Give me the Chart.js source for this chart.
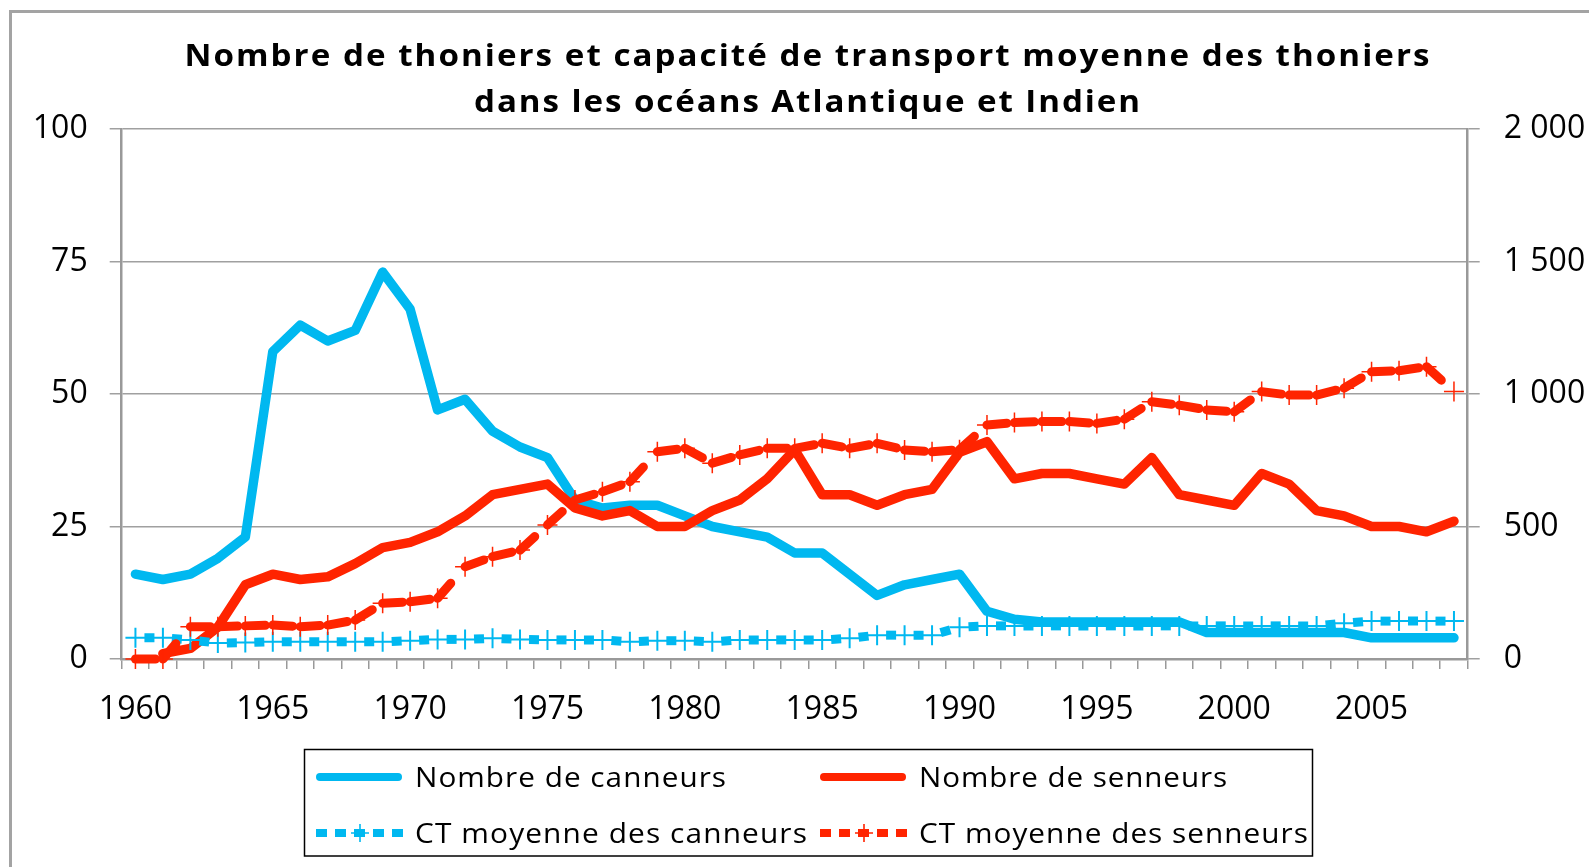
<!DOCTYPE html>
<html>
<head>
<meta charset="utf-8">
<script src="https://cdn.jsdelivr.net/npm/chart.js@4.4.1/dist/chart.umd.min.js"></script>
<style>
html,body{margin:0;padding:0;background:#ffffff;}
#wrap{width:1589px;height:867px;position:relative;overflow:hidden;}
canvas{display:block;}
</style>
</head>
<body>
<div id="wrap"><canvas id="c" width="1589" height="867"></canvas></div>
<script>
// ---------- data ----------
const years = ['1960','1961','1962','1963','1964','1965','1966','1967','1968','1969',
               '1970','1971','1972','1973','1974','1975','1976','1977','1978','1979',
               '1980','1981','1982','1983','1984','1985','1986','1987','1988','1989',
               '1990','1991','1992','1993','1994','1995','1996','1997','1998','1999',
               '2000','2001','2002','2003','2004','2005','2006','2007','2008'];
const xTickLabels = ['1960','1965','1970','1975','1980','1985','1990','1995','2000','2005'];
const rightTickLabels = ['0','500','1 000','1 500','2 000'];

// Nombre de canneurs (left axis)
const canneurs = [16,15,16,19,23,58,63,60,62,73,
                  66,47,49,43,40,38,30,28.5,29,29,
                  27,25,24,23,20,20,16,12,14,15,
                  16,9,7.5,7,7,7,7,7,7,5,
                  5,5,5,5,5,4,4,4,4];
// Nombre de senneurs (left axis)
const senneurs = [null,1,2,6,14,16,15,15.5,18,21,
                  22,24,27,31,32,33,28.5,27,28,25,
                  25,28,30,34,39.5,31,31,29,31,32,
                  39,41,34,35,35,34,33,38,31,30,
                  29,35,33,28,27,25,25,24,26];
// CT moyenne des canneurs (right axis)
const ctCanneurs = [80,80,72,60,62,65,65,65,65,65,
                    69,74,74,78,74,72,72,72,65,69,
                    69,65,72,72,72,72,78,90,90,90,
                    120,125,125,125,125,125,125,125,125,125,
                    125,125,125,125,135,143,143,143,143];
// CT moyenne des senneurs (right axis)
const ctSenneurs = [0,0,122,122,125,128,122,128,147,210,
                    216,229,348,386,411,506,600,631,669,782,
                    795,739,770,795,795,814,795,814,789,782,
                    790,883,892,896,896,889,905,971,958,940,
                    933,1009,996,996,1022,1084,1088,1103,1009];

const titleLines = ['Nombre de thoniers et capacité de transport moyenne des thoniers',
                    'dans les océans Atlantique et Indien'];

// ---------- styles ----------
const BLUE = '#00B8F0';
const RED = '#FF2400';
const GRID = '#A0A0A0';
const AXIS = '#999999';
const FONT = '"Open Sans", "Noto Sans", sans-serif';

// restart the dash pattern at every data point (each segment stroked separately)
const perSegment = { borderDashOffset: c => (c.p0DataIndex % 2) * 0.001 };

function fitText(ctx, text, x, y, targetW, centered, frac) {
  ctx.save();
  if ('letterSpacing' in ctx) ctx.letterSpacing = '0px';
  let w = ctx.measureText(text).width;
  if ('letterSpacing' in ctx && targetW > w) {
    const ls = frac * (targetW - w) / text.length;
    ctx.letterSpacing = ls.toFixed(2) + 'px';
    w = ctx.measureText(text).width;
  }
  const sx = targetW / w;
  const x0 = centered ? x - targetW / 2 : x;
  ctx.textAlign = 'left';
  ctx.translate(x0, y);
  ctx.scale(sx, 1);
  ctx.fillText(text, 0, 0);
  ctx.restore();
}

const legendSlots = [
  { x: 316, y: 777, tx: 415, tw: 312 },
  { x: 820, y: 777, tx: 919, tw: 309 },
  { x: 316, y: 833, tx: 415, tw: 393 },
  { x: 820, y: 833, tx: 919, tw: 390 }
];
const legendOrder = ['Nombre de canneurs', 'Nombre de senneurs',
                     'CT moyenne des canneurs', 'CT moyenne des senneurs'];

const deco = {
  id: 'deco',
  afterDraw(chart) {
    const ctx = chart.ctx;
    ctx.save();
    // outer chart border (left & top visible)
    ctx.strokeStyle = '#A3A3A3';
    ctx.lineWidth = 3;
    ctx.beginPath();
    ctx.moveTo(10.5, 870);
    ctx.lineTo(10.5, 11.5);
    ctx.lineTo(1595, 11.5);
    ctx.stroke();

    // title
    ctx.fillStyle = '#000';
    ctx.textBaseline = 'alphabetic';
    ctx.font = 'bold 30px ' + FONT;
    fitText(ctx, titleLines[0], 808, 66, 1247, true, 0.5);
    fitText(ctx, titleLines[1], 808, 112, 668, true, 0.5);

    // legend box
    ctx.strokeStyle = '#000';
    ctx.lineWidth = 1.5;
    ctx.strokeRect(304.5, 749.5, 1008, 106.5);

    legendOrder.forEach((lab, i) => {
      const ds = chart.data.datasets.find(d => d.label === lab);
      const s = legendSlots[i];
      ctx.save();
      ctx.strokeStyle = ds.borderColor;
      ctx.lineWidth = 8;
      if (ds.borderDash && ds.borderDash.length) {
        ctx.lineCap = 'butt';
        ctx.setLineDash([11, 8]);
        ctx.lineDashOffset = 0;
        ctx.beginPath();
        ctx.moveTo(s.x, s.y);
        ctx.lineTo(s.x + 88, s.y);
        ctx.stroke();
        ctx.setLineDash([]);
        ctx.lineWidth = 1.6;
        const cx = s.x + 44;
        ctx.beginPath();
        ctx.moveTo(cx - 9, s.y); ctx.lineTo(cx + 9, s.y);
        ctx.moveTo(cx, s.y - 9); ctx.lineTo(cx, s.y + 9);
        ctx.stroke();
      } else {
        ctx.lineCap = 'round';
        ctx.beginPath();
        ctx.moveTo(s.x + 4, s.y);
        ctx.lineTo(s.x + 82, s.y);
        ctx.stroke();
      }
      ctx.restore();
      ctx.fillStyle = '#000';
      ctx.font = '28px ' + FONT;
      ctx.textBaseline = 'alphabetic';
      fitText(ctx, lab, s.tx, s.y + 10, s.tw, false, 0.5);
    });
    ctx.restore();
  }
};

const ctx = document.getElementById('c').getContext('2d');
new Chart(ctx, {
  type: 'line',
  data: {
    labels: years,
    datasets: [
      {
        label: 'CT moyenne des senneurs', data: ctSenneurs, yAxisID: 'y2', order: 0,
        borderColor: RED, backgroundColor: RED, borderWidth: 9,
        borderDash: [20, 25], borderCapStyle: 'round', borderJoinStyle: 'round',
        pointStyle: 'cross', pointRadius: 10, pointBorderWidth: 1.5,
        pointBorderColor: RED, pointBackgroundColor: RED,
        segment: perSegment, clip: false, tension: 0
      },
      {
        label: 'CT moyenne des canneurs', data: ctCanneurs, yAxisID: 'y2', order: 1,
        borderColor: BLUE, backgroundColor: BLUE, borderWidth: 9,
        borderDash: [0, 9, 10, 40], borderCapStyle: 'butt',
        pointStyle: 'cross', pointRadius: 10, pointBorderWidth: 2,
        pointBorderColor: BLUE, pointBackgroundColor: BLUE,
        segment: perSegment, clip: false, tension: 0
      },
      {
        label: 'Nombre de senneurs', data: senneurs, yAxisID: 'y', order: 2,
        borderColor: RED, backgroundColor: RED, borderWidth: 9.5,
        borderCapStyle: 'round', borderJoinStyle: 'round',
        pointRadius: 0, tension: 0, spanGaps: false
      },
      {
        label: 'Nombre de canneurs', data: canneurs, yAxisID: 'y', order: 3,
        borderColor: BLUE, backgroundColor: BLUE, borderWidth: 9.5,
        borderCapStyle: 'round', borderJoinStyle: 'round',
        pointRadius: 0, tension: 0
      }
    ]
  },
  options: {
    responsive: false,
    animation: false,
    devicePixelRatio: 1,
    events: [],
    layout: { padding: { top: 129, left: 0, right: 0, bottom: 0 } },
    plugins: {
      legend: { display: false },
      title: { display: false },
      tooltip: { enabled: false }
    },
    scales: {
      x: {
        type: 'category',
        offset: true,
        grid: { display: true, offset: true, drawOnChartArea: false, drawTicks: true,
                tickLength: 10, color: AXIS, lineWidth: 1.5 },
        border: { display: true, color: AXIS, width: 2.5 },
        ticks: {
          autoSkip: false, maxRotation: 0, minRotation: 0, padding: 22,
          color: '#000', font: { family: FONT, size: 32 },
          callback: function(v, i) { return xTickLabels.includes(years[i]) ? years[i] : ''; }
        },
        afterFit: s => { s.height = 208; }
      },
      y: {
        position: 'left', min: 0, max: 100,
        grid: { color: GRID, lineWidth: 1.5, tickLength: 12, drawTicks: true },
        border: { display: true, color: AXIS, width: 2.5 },
        ticks: { stepSize: 25, padding: 22, color: '#000', font: { family: FONT, size: 32 } },
        afterFit: s => { s.width = 121.7; }
      },
      y2: {
        position: 'right', min: 0, max: 2000,
        grid: { drawOnChartArea: false, color: GRID, lineWidth: 1.5, tickLength: 12, drawTicks: true },
        border: { display: true, color: AXIS, width: 2.5 },
        ticks: { stepSize: 500, padding: 24, color: '#000', font: { family: FONT, size: 32 },
                 callback: (v, i) => rightTickLabels[i] },
        afterFit: s => { s.width = 1589 - 1467.7; }
      }
    }
  },
  plugins: [deco]
});
</script>
</body>
</html>
